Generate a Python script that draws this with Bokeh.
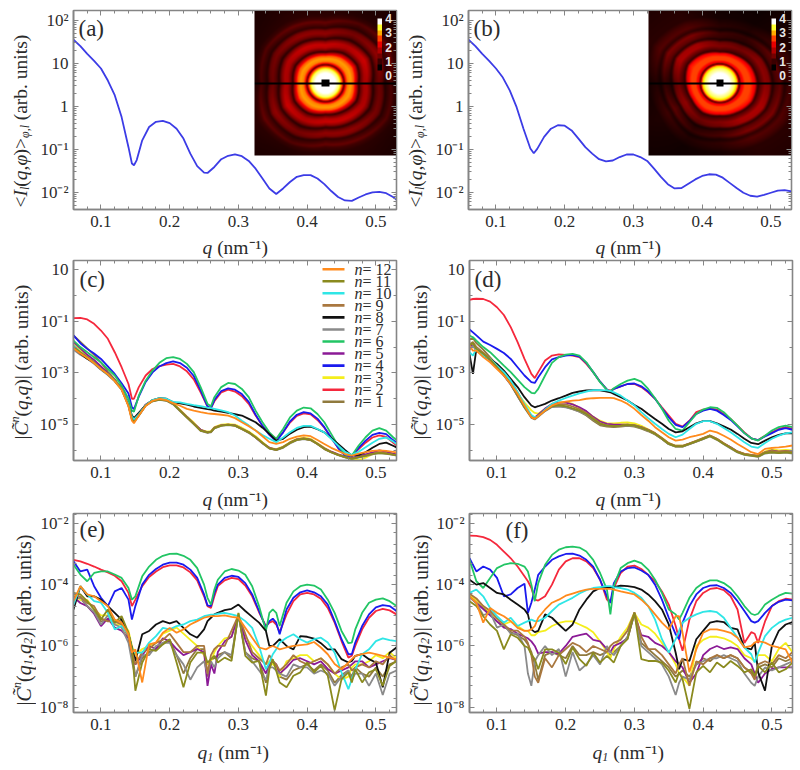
import numpy as np
from bokeh.embed import file_html
from bokeh.resources import INLINE
from bokeh.plotting import figure
from bokeh.layouts import column, row
from bokeh.models import (Range1d, LinearAxis, LogAxis, FixedTicker, Label, LinearColorMapper)

# ---------- values (log10 of the ordinate) ----------
qa = [.06,.07,.08,.09,.10,.11,.12,.13,.14,.145,.148,.152,.16,.17,.18,.19,.2,.21,.22,.23,.24,.25,.255,.265,.275,.285,.295,.305,.315,.325,.335,.345,.355,.365,.375,.385,.395,.405,.415,.425,.435,.445,.455,.465,.475,.485,.495,.505,.515,.525,.53]
Ia = [1.55,1.40,1.22,1.06,.88,.60,.26,-.25,-.95,-1.33,-1.37,-1.25,-.79,-.48,-.36,-.34,-.39,-.52,-.75,-1.10,-1.39,-1.54,-1.55,-1.41,-1.23,-1.15,-1.12,-1.16,-1.27,-1.45,-1.68,-1.91,-2.04,-1.91,-1.76,-1.64,-1.60,-1.60,-1.68,-1.81,-1.97,-2.11,-2.19,-2.20,-2.12,-2.05,-2.00,-1.99,-2.02,-2.11,-2.17]
qb = [.06,.07,.08,.09,.10,.11,.12,.13,.14,.15,.155,.16,.17,.18,.19,.2,.21,.22,.23,.24,.25,.26,.27,.28,.29,.3,.31,.32,.33,.34,.35,.36,.37,.38,.39,.40,.41,.42,.43,.44,.45,.46,.47,.48,.49,.50,.51,.52,.53]
Ib = [1.55,1.40,1.22,1.06,.88,.67,.37,-.02,-.52,-.98,-1.09,-.99,-.71,-.52,-.44,-.45,-.56,-.75,-.95,-1.10,-1.23,-1.28,-1.26,-1.18,-1.12,-1.12,-1.18,-1.27,-1.45,-1.64,-1.81,-1.91,-1.90,-1.80,-1.70,-1.62,-1.58,-1.59,-1.66,-1.78,-1.90,-2.01,-2.08,-2.10,-2.06,-2.01,-1.96,-1.95,-1.98]

qc = [.06,.07,.08,.09,.10,.11,.12,.13,.14,.145,.148,.155,.165,.175,.185,.195,.205,.215,.225,.235,.245,.255,.26,.265,.275,.285,.295,.305,.315,.325,.335,.345,.355,.365,.375,.385,.395,.405,.415,.425,.435,.445,.455,.465,.475,.485,.495,.505,.515,.525,.53]
c1 = [-1.55,-1.8,-2.05,-2.3,-2.6,-2.95,-3.25,-3.6,-4.2,-4.75,-4.87,-4.62,-4.25,-4.08,-4.0,-4.05,-4.2,-4.45,-4.7,-4.95,-5.2,-5.3,-5.27,-5.12,-5.02,-5.0,-5.03,-5.15,-5.3,-5.48,-5.7,-5.9,-5.97,-5.87,-5.7,-5.58,-5.55,-5.6,-5.74,-5.93,-6.06,-6.16,-6.25,-6.3,-6.25,-6.2,-6.12,-6.08,-6.1,-6.15,-6.17]
c2 = [-.88,-.87,-.93,-1.1,-1.36,-1.68,-2.2,-2.78,-3.43,-4.0,-4.0,-3.55,-3.1,-2.85,-2.74,-2.68,-2.65,-2.75,-2.94,-3.25,-3.75,-4.3,-4.36,-4.1,-3.75,-3.65,-3.72,-3.9,-4.2,-4.65,-5.05,-5.35,-5.55,-5.3,-4.92,-4.66,-4.57,-4.6,-4.82,-5.12,-5.52,-5.9,-6.15,-6.2,-5.95,-5.7,-5.5,-5.42,-5.48,-5.7,-5.8]
c3 = [-1.9,-2.1,-2.35,-2.55,-2.8,-3.05,-3.3,-3.65,-4.25,-4.75,-4.88,-4.6,-4.25,-4.05,-4.0,-4.03,-4.18,-4.42,-4.68,-4.92,-5.2,-5.27,-5.25,-5.1,-5.0,-4.98,-5.0,-5.12,-5.27,-5.45,-5.68,-5.9,-5.95,-5.85,-5.68,-5.55,-5.5,-5.55,-5.72,-5.9,-6.05,-6.15,-6.25,-6.35,-6.38,-6.28,-6.15,-6.05,-6.08,-6.14,-6.16]
c4 = [-1.55,-1.85,-2.07,-2.25,-2.46,-2.75,-3.04,-3.4,-3.8,-4.33,-4.4,-3.92,-3.35,-2.98,-2.75,-2.62,-2.55,-2.62,-2.8,-3.12,-3.68,-4.3,-4.36,-4.05,-3.7,-3.6,-3.65,-3.82,-4.12,-4.62,-5.05,-5.4,-5.65,-5.3,-4.88,-4.62,-4.52,-4.57,-4.77,-5.1,-5.5,-5.9,-6.2,-6.22,-5.9,-5.62,-5.4,-5.32,-5.37,-5.6,-5.7]
c5 = [-1.8,-2.05,-2.3,-2.5,-2.75,-3.02,-3.28,-3.6,-4.2,-4.72,-4.85,-4.6,-4.22,-4.07,-4.02,-4.05,-4.2,-4.45,-4.7,-4.95,-5.2,-5.3,-5.28,-5.12,-5.03,-5.0,-5.03,-5.16,-5.3,-5.5,-5.72,-5.9,-5.97,-5.87,-5.7,-5.57,-5.53,-5.58,-5.74,-5.92,-6.05,-6.15,-6.24,-6.3,-6.22,-6.15,-6.08,-6.0,-6.05,-6.12,-6.15]
c6 = [-1.75,-2.0,-2.2,-2.4,-2.59,-2.85,-3.1,-3.49,-4.0,-4.46,-4.5,-3.88,-3.3,-2.91,-2.61,-2.43,-2.39,-2.46,-2.65,-2.97,-3.55,-4.2,-4.29,-3.94,-3.55,-3.39,-3.43,-3.62,-3.94,-4.46,-4.91,-5.3,-5.55,-5.17,-4.72,-4.46,-4.34,-4.37,-4.59,-4.91,-5.36,-5.81,-6.16,-6.2,-5.81,-5.49,-5.23,-5.14,-5.23,-5.49,-5.6]
c7 = [-2.1,-2.3,-2.45,-2.65,-2.88,-3.08,-3.33,-3.65,-4.28,-4.8,-4.9,-4.66,-4.27,-4.1,-4.04,-4.08,-4.22,-4.48,-4.73,-4.98,-5.24,-5.32,-5.3,-5.15,-5.05,-5.02,-5.05,-5.18,-5.32,-5.5,-5.72,-5.93,-5.99,-5.9,-5.73,-5.6,-5.56,-5.6,-5.76,-5.95,-6.08,-6.18,-6.27,-6.33,-6.28,-6.22,-6.15,-6.1,-6.13,-6.17,-6.2]
c8 = [-2.0,-2.25,-2.45,-2.6,-2.85,-3.05,-3.3,-3.6,-4.2,-4.65,-4.75,-4.55,-4.25,-4.05,-3.98,-4.0,-4.14,-4.18,-4.23,-4.3,-4.35,-4.4,-4.42,-4.46,-4.5,-4.55,-4.6,-4.65,-4.78,-4.91,-5.12,-5.36,-5.62,-5.55,-5.35,-5.2,-5.1,-5.08,-5.18,-5.3,-5.52,-5.75,-5.98,-6.2,-6.17,-6.07,-5.9,-5.75,-5.7,-5.82,-5.88]
c9 = [-1.95,-2.2,-2.42,-2.62,-2.85,-3.06,-3.3,-3.62,-4.25,-4.77,-4.9,-4.65,-4.25,-4.08,-4.02,-4.06,-4.2,-4.46,-4.72,-4.97,-5.23,-5.3,-5.28,-5.13,-5.03,-5.0,-5.04,-5.17,-5.3,-5.49,-5.7,-5.92,-5.98,-5.88,-5.7,-5.58,-5.54,-5.59,-5.75,-5.94,-6.07,-6.17,-6.26,-6.32,-6.26,-6.2,-6.13,-6.08,-6.11,-6.16,-6.18]
c10 = [-1.95,-2.2,-2.4,-2.6,-2.85,-3.05,-3.3,-3.6,-4.2,-4.7,-4.8,-4.6,-4.25,-4.05,-3.98,-4.0,-4.12,-4.14,-4.2,-4.25,-4.29,-4.34,-4.36,-4.39,-4.45,-4.52,-4.65,-4.85,-5.03,-5.23,-5.4,-5.55,-5.68,-5.5,-5.3,-5.13,-5.05,-5.05,-5.17,-5.3,-5.55,-5.81,-6.05,-6.17,-6.05,-5.88,-5.7,-5.55,-5.5,-5.65,-5.75]
c11 = [-2.0,-2.2,-2.39,-2.6,-2.85,-3.05,-3.3,-3.62,-4.26,-4.78,-4.9,-4.65,-4.26,-4.1,-4.03,-4.07,-4.2,-4.46,-4.72,-4.97,-5.23,-5.3,-5.28,-5.14,-5.04,-5.01,-5.04,-5.17,-5.3,-5.49,-5.71,-5.92,-5.98,-5.88,-5.71,-5.59,-5.55,-5.59,-5.75,-5.94,-6.07,-6.17,-6.26,-6.33,-6.26,-6.2,-6.13,-6.1,-6.12,-6.16,-6.18]
c12 = [-2.05,-2.25,-2.42,-2.62,-2.85,-3.05,-3.32,-3.65,-4.3,-4.85,-4.95,-4.65,-4.28,-4.08,-4.0,-4.05,-4.17,-4.27,-4.39,-4.46,-4.52,-4.57,-4.58,-4.59,-4.62,-4.65,-4.75,-4.91,-5.06,-5.23,-5.45,-5.68,-5.75,-5.68,-5.55,-5.47,-5.42,-5.45,-5.6,-5.75,-5.9,-6.02,-6.14,-6.2,-6.12,-6.07,-6.02,-6.0,-6.02,-6.06,-6.08]

qd = [.06,.065,.07,.08,.09,.10,.11,.12,.13,.14,.15,.155,.16,.17,.18,.19,.20,.21,.22,.23,.24,.25,.26,.265,.27,.28,.29,.30,.31,.32,.33,.34,.35,.36,.37,.38,.39,.40,.41,.42,.43,.44,.45,.46,.47,.48,.49,.50,.51,.52,.53]
d1 = [-1.7,-1.65,-1.85,-2.1,-2.4,-2.7,-2.95,-3.3,-3.75,-4.25,-4.68,-4.75,-4.66,-4.45,-4.3,-4.28,-4.32,-4.4,-4.5,-4.65,-4.85,-5.03,-5.08,-5.09,-5.1,-5.08,-5.05,-5.08,-5.16,-5.26,-5.38,-5.56,-5.76,-5.85,-5.85,-5.76,-5.66,-5.55,-5.43,-5.56,-5.73,-5.9,-6.05,-6.14,-6.18,-6.22,-6.08,-6.05,-6.08,-6.05,-6.08]
d2 = [-.17,-.14,-.13,-.14,-.24,-.46,-.76,-1.23,-1.81,-2.46,-3.04,-3.2,-2.97,-2.52,-2.33,-2.28,-2.3,-2.33,-2.39,-2.65,-2.97,-3.34,-3.65,-3.68,-3.62,-3.52,-3.43,-3.43,-3.55,-3.75,-4.0,-4.33,-4.65,-4.97,-5.08,-4.85,-4.52,-4.42,-4.37,-4.42,-4.59,-4.78,-5.04,-5.3,-5.53,-5.6,-5.43,-5.3,-5.17,-5.1,-5.17]
d3 = [-2.0,-1.9,-2.15,-2.3,-2.5,-2.78,-3.08,-3.4,-3.8,-4.15,-4.45,-4.55,-4.58,-4.4,-4.2,-4.15,-4.12,-4.2,-4.35,-4.5,-4.7,-4.85,-4.95,-4.95,-4.95,-4.93,-4.92,-4.95,-5.05,-5.18,-5.33,-5.52,-5.72,-5.82,-5.82,-5.74,-5.63,-5.52,-5.42,-5.55,-5.72,-5.9,-6.05,-6.12,-6.17,-6.2,-6.05,-5.95,-6.0,-5.98,-6.0]
d4 = [-1.32,-1.43,-1.55,-1.79,-1.92,-2.07,-2.23,-2.46,-2.78,-3.1,-3.36,-3.39,-3.17,-2.78,-2.48,-2.39,-2.33,-2.3,-2.37,-2.61,-2.97,-3.34,-3.65,-3.72,-3.62,-3.52,-3.43,-3.41,-3.52,-3.72,-4.0,-4.37,-4.72,-5.01,-5.1,-4.87,-4.59,-4.46,-4.39,-4.46,-4.63,-4.82,-5.07,-5.33,-5.53,-5.6,-5.46,-5.33,-5.2,-5.14,-5.2]
d5 = [-1.95,-1.95,-2.1,-2.28,-2.5,-2.8,-3.1,-3.45,-3.9,-4.33,-4.68,-4.72,-4.62,-4.38,-4.2,-4.15,-4.15,-4.22,-4.33,-4.48,-4.7,-4.88,-4.97,-4.98,-5.0,-5.0,-5.0,-5.03,-5.1,-5.2,-5.34,-5.54,-5.74,-5.83,-5.83,-5.74,-5.64,-5.53,-5.43,-5.56,-5.73,-5.88,-6.05,-6.14,-6.18,-6.22,-6.08,-6.0,-6.05,-6.03,-6.05]
d6 = [-1.55,-1.62,-1.75,-2.0,-2.2,-2.46,-2.72,-2.97,-3.26,-3.55,-3.77,-3.79,-3.62,-3.1,-2.61,-2.39,-2.29,-2.26,-2.33,-2.59,-2.97,-3.36,-3.66,-3.72,-3.59,-3.43,-3.3,-3.23,-3.34,-3.62,-3.98,-4.39,-4.85,-5.17,-5.23,-4.91,-4.59,-4.42,-4.33,-4.35,-4.52,-4.78,-5.04,-5.33,-5.53,-5.62,-5.43,-5.23,-5.1,-5.04,-5.1]
d7 = [-2.1,-1.95,-2.15,-2.3,-2.5,-2.8,-3.1,-3.45,-3.9,-4.35,-4.74,-4.8,-4.7,-4.48,-4.32,-4.3,-4.33,-4.4,-4.5,-4.62,-4.8,-4.98,-5.05,-5.06,-5.07,-5.05,-5.03,-5.06,-5.14,-5.24,-5.37,-5.56,-5.76,-5.85,-5.85,-5.76,-5.66,-5.56,-5.46,-5.59,-5.76,-5.92,-6.08,-6.17,-6.21,-6.25,-6.12,-6.08,-6.1,-6.08,-6.12]
d8 = [-2.26,-3.04,-2.07,-2.33,-2.46,-2.65,-2.91,-3.23,-3.55,-3.94,-4.26,-4.33,-4.29,-4.2,-4.07,-3.98,-3.88,-3.77,-3.72,-3.68,-3.67,-3.68,-3.72,-3.75,-3.81,-3.94,-4.07,-4.24,-4.39,-4.59,-4.78,-4.97,-5.17,-5.3,-5.26,-5.1,-4.95,-4.87,-4.87,-4.95,-5.07,-5.19,-5.36,-5.55,-5.71,-5.76,-5.62,-5.49,-5.4,-5.34,-5.34]
d9 = [-1.9,-1.8,-2.0,-2.22,-2.45,-2.75,-3.05,-3.4,-3.85,-4.3,-4.7,-4.76,-4.66,-4.44,-4.27,-4.22,-4.22,-4.3,-4.4,-4.55,-4.74,-4.94,-5.03,-5.04,-5.05,-5.04,-5.0,-5.02,-5.1,-5.2,-5.33,-5.52,-5.72,-5.82,-5.82,-5.73,-5.63,-5.52,-5.42,-5.55,-5.72,-5.88,-6.04,-6.13,-6.17,-6.2,-6.06,-6.02,-6.05,-6.03,-6.05]
d10 = [-2.2,-2.33,-2.07,-2.33,-2.46,-2.72,-2.97,-3.3,-3.75,-4.2,-4.63,-4.72,-4.68,-4.42,-4.2,-4.07,-3.97,-3.88,-3.79,-3.72,-3.67,-3.67,-3.68,-3.7,-3.75,-3.88,-4.07,-4.26,-4.52,-4.75,-4.97,-5.17,-5.36,-5.49,-5.39,-5.17,-4.97,-4.87,-4.87,-4.97,-5.13,-5.3,-5.49,-5.68,-5.85,-5.9,-5.71,-5.55,-5.43,-5.34,-5.3]
d11 = [-1.94,-1.84,-2.07,-2.26,-2.48,-2.78,-3.08,-3.43,-3.88,-4.33,-4.72,-4.78,-4.68,-4.46,-4.29,-4.26,-4.29,-4.37,-4.46,-4.59,-4.78,-4.97,-5.04,-5.05,-5.06,-5.04,-5.01,-5.04,-5.13,-5.23,-5.36,-5.55,-5.75,-5.84,-5.84,-5.75,-5.65,-5.55,-5.45,-5.58,-5.75,-5.91,-6.07,-6.16,-6.2,-6.24,-6.1,-6.07,-6.1,-6.07,-6.1]
d12 = [-1.94,-2.14,-2.14,-2.39,-2.59,-2.85,-3.1,-3.43,-3.81,-4.26,-4.72,-4.78,-4.68,-4.46,-4.26,-4.16,-4.11,-4.07,-4.05,-4.0,-3.98,-3.97,-3.97,-3.97,-3.98,-4.07,-4.2,-4.39,-4.63,-4.85,-5.1,-5.3,-5.49,-5.62,-5.58,-5.49,-5.43,-5.36,-5.23,-5.3,-5.43,-5.58,-5.75,-5.91,-6.07,-6.14,-5.94,-5.9,-5.88,-5.85,-5.81]

qe = [.06,.07,.08,.09,.10,.11,.12,.13,.14,.145,.15,.16,.17,.18,.19,.20,.21,.22,.23,.24,.25,.255,.26,.265,.27,.28,.29,.30,.31,.32,.33,.34,.345,.35,.355,.36,.37,.38,.39,.40,.41,.42,.43,.44,.45,.46,.465,.47,.48,.49,.50,.51,.52,.53]
e1 = [-4.35,-4.45,-4.7,-4.9,-5.2,-5.15,-5.25,-5.15,-5.6,-6.2,-7.0,-6.4,-6.2,-6.1,-5.9,-5.8,-6.3,-6.9,-6.4,-6.1,-6.1,-7.0,-6.45,-6.4,-6.3,-6.2,-6.4,-4.95,-6.2,-6.4,-6.5,-7.2,-6.7,-6.5,-6.7,-7.0,-7.1,-6.8,-6.7,-6.6,-6.8,-6.6,-6.8,-7.2,-6.95,-6.8,-7.0,-6.7,-6.9,-7.0,-6.7,-7.0,-6.6,-6.5]
e2 = [-3.19,-3.24,-3.32,-3.41,-3.51,-3.6,-3.71,-3.89,-4.27,-4.7,-4.49,-4.05,-3.75,-3.57,-3.43,-3.37,-3.37,-3.44,-3.6,-3.86,-4.38,-4.7,-4.76,-4.38,-4.05,-3.86,-3.78,-3.82,-4.03,-4.38,-4.9,-5.35,-5.24,-5.19,-5.3,-5.55,-4.97,-4.54,-4.32,-4.27,-4.32,-4.46,-4.76,-5.24,-5.84,-6.38,-6.32,-6.0,-5.46,-5.08,-4.86,-4.79,-4.84,-4.97]
e3 = [-4.3,-4.5,-4.5,-4.8,-5.0,-5.0,-5.3,-5.3,-5.5,-6.0,-6.3,-6.1,-6.0,-5.9,-5.6,-5.5,-5.4,-5.6,-5.8,-6.0,-6.3,-6.6,-6.5,-6.2,-6.0,-5.75,-5.7,-4.95,-5.7,-6.0,-6.3,-6.6,-6.5,-6.6,-6.7,-7.0,-6.5,-6.4,-6.3,-6.3,-6.5,-6.4,-6.6,-6.9,-7.1,-7.0,-6.7,-6.6,-6.6,-6.5,-6.3,-6.4,-6.2,-6.4]
e4 = [-3.24,-3.57,-3.51,-4.05,-4.43,-4.7,-4.22,-4.11,-4.49,-5.14,-4.7,-4.0,-3.68,-3.49,-3.35,-3.28,-3.28,-3.35,-3.51,-3.78,-4.32,-4.68,-4.7,-4.27,-4.0,-3.78,-3.71,-3.75,-3.95,-4.32,-4.86,-5.4,-5.19,-5.11,-5.24,-5.62,-4.81,-4.43,-4.25,-4.19,-4.25,-4.38,-4.65,-5.19,-5.78,-6.27,-6.27,-5.89,-5.35,-4.97,-4.74,-4.67,-4.7,-4.86]
e5 = [-4.4,-4.6,-4.7,-4.95,-5.35,-5.1,-5.4,-5.5,-5.75,-6.3,-6.6,-6.3,-6.0,-6.1,-5.75,-5.85,-6.1,-6.3,-6.2,-6.1,-6.2,-7.3,-6.6,-6.9,-6.2,-5.85,-5.7,-5.0,-5.8,-6.3,-6.5,-6.9,-6.6,-6.5,-6.6,-6.9,-6.7,-6.45,-6.4,-6.5,-6.6,-6.5,-6.75,-6.9,-6.8,-6.7,-6.6,-6.5,-6.5,-6.7,-6.6,-6.5,-6.4,-6.45]
e6 = [-3.35,-3.67,-3.89,-3.62,-3.57,-3.57,-3.67,-3.78,-4.11,-4.49,-4.38,-3.73,-3.41,-3.19,-3.06,-3.0,-2.99,-3.06,-3.19,-3.46,-4.0,-4.43,-4.65,-4.16,-3.84,-3.57,-3.49,-3.54,-3.68,-4.05,-4.7,-5.51,-4.92,-4.81,-4.92,-5.35,-4.59,-4.22,-4.05,-4.0,-4.03,-4.16,-4.49,-4.92,-5.51,-5.91,-5.89,-5.46,-4.92,-4.59,-4.49,-4.45,-4.54,-4.7]
e7 = [-4.5,-4.4,-4.7,-4.9,-5.3,-5.0,-5.3,-5.4,-5.9,-6.5,-7.0,-6.3,-6.3,-6.0,-5.9,-5.9,-6.3,-6.6,-7.1,-6.7,-6.5,-6.9,-6.5,-6.7,-6.4,-6.2,-6.3,-5.0,-6.2,-6.5,-6.8,-7.1,-6.7,-6.7,-6.8,-6.9,-7.0,-6.6,-6.7,-6.7,-6.9,-6.8,-6.9,-7.3,-7.0,-6.8,-7.1,-6.9,-6.9,-7.3,-6.9,-7.6,-6.9,-6.8]
e8 = [-4.81,-4.05,-4.38,-4.38,-4.49,-4.7,-4.92,-5.14,-5.62,-6.05,-6.49,-5.62,-5.51,-5.3,-5.19,-5.26,-5.19,-5.41,-5.62,-5.73,-5.46,-5.19,-5.08,-4.97,-4.92,-4.83,-4.79,-4.65,-4.86,-5.05,-5.24,-5.51,-6.0,-6.0,-5.89,-5.78,-6.0,-6.11,-5.68,-5.7,-5.76,-5.91,-6.11,-6.11,-6.43,-6.54,-6.49,-6.32,-6.27,-6.43,-6.54,-7.35,-6.22,-6.05]
e9 = [-4.3,-4.4,-4.6,-4.7,-5.1,-5.2,-5.2,-5.3,-5.7,-6.2,-6.6,-6.2,-6.1,-5.9,-5.8,-5.6,-5.9,-6.2,-6.2,-6.0,-6.0,-6.9,-6.3,-6.1,-6.0,-6.0,-5.5,-5.0,-5.6,-6.2,-6.4,-6.6,-6.3,-6.5,-6.6,-6.8,-6.6,-6.3,-6.5,-6.6,-6.5,-6.4,-6.6,-6.9,-6.7,-6.6,-6.8,-6.7,-6.6,-6.7,-6.5,-6.6,-6.3,-6.5]
e10 = [-4.65,-4.05,-4.32,-4.54,-4.59,-4.92,-5.46,-5.35,-5.62,-6.11,-6.22,-6.22,-5.89,-5.68,-5.41,-5.46,-5.35,-5.3,-5.19,-5.14,-5.03,-5.0,-4.98,-4.97,-4.95,-4.92,-4.97,-5.03,-5.19,-5.41,-6.0,-6.76,-6.54,-6.27,-6.11,-5.89,-5.73,-5.62,-5.78,-5.89,-5.78,-5.73,-5.89,-6.22,-6.86,-7.41,-7.08,-6.76,-6.27,-6.11,-5.84,-5.75,-5.81,-5.84]
e11 = [-4.27,-4.32,-4.54,-4.81,-5.14,-4.81,-5.24,-5.03,-5.57,-6.11,-7.46,-6.54,-6.11,-6.16,-5.95,-5.78,-6.54,-7.35,-6.54,-6.22,-6.22,-6.54,-6.43,-6.32,-6.54,-6.38,-6.49,-4.92,-6.32,-6.54,-6.49,-7.62,-6.76,-6.43,-6.81,-7.19,-7.35,-6.97,-6.86,-6.54,-6.86,-6.65,-6.97,-8.1,-7.08,-6.86,-7.19,-6.76,-7.19,-6.86,-6.76,-7.3,-6.65,-6.49]
e12 = [-4.54,-4.05,-4.32,-4.38,-4.54,-4.7,-5.14,-5.24,-5.62,-6.22,-6.11,-7.19,-5.95,-5.89,-5.57,-5.41,-5.57,-5.46,-5.3,-5.19,-5.08,-5.05,-5.03,-5.03,-5.03,-5.0,-5.05,-5.08,-5.41,-5.73,-6.05,-6.11,-6.05,-6.0,-6.05,-6.11,-6.05,-6.0,-5.97,-5.95,-5.87,-6.05,-6.27,-6.59,-6.76,-6.54,-6.43,-6.32,-6.27,-6.22,-6.27,-6.32,-6.38,-6.43]

qf = [.06,.07,.08,.09,.10,.11,.12,.13,.14,.145,.15,.155,.16,.17,.18,.19,.20,.21,.22,.23,.24,.25,.26,.265,.27,.28,.29,.30,.31,.32,.33,.34,.35,.36,.365,.37,.38,.39,.40,.41,.42,.43,.44,.45,.46,.47,.475,.48,.49,.50,.51,.52,.53]
f1 = [-4.35,-4.5,-4.75,-4.95,-5.2,-5.35,-5.55,-5.65,-5.8,-5.95,-6.2,-6.6,-7.1,-6.3,-6.2,-6.3,-6.4,-6.0,-6.3,-6.3,-6.2,-6.3,-6.2,-6.3,-6.2,-6.0,-5.7,-4.92,-5.9,-6.1,-6.3,-6.5,-6.7,-7.0,-6.9,-6.8,-7.0,-6.6,-6.4,-6.5,-6.3,-6.4,-6.3,-6.4,-6.7,-6.85,-7.0,-6.7,-6.6,-6.7,-6.4,-6.5,-6.4]
f2 = [-2.4,-2.41,-2.45,-2.54,-2.7,-2.92,-3.14,-3.41,-3.73,-3.89,-4.11,-4.49,-4.52,-4.38,-4.0,-3.51,-3.24,-3.14,-3.14,-3.24,-3.46,-3.84,-4.49,-4.59,-4.11,-3.62,-3.41,-3.38,-3.49,-3.68,-3.89,-4.22,-4.65,-5.35,-5.78,-6.16,-5.14,-4.54,-4.27,-4.14,-4.11,-4.18,-4.38,-4.81,-5.9,-5.55,-5.6,-5.9,-5.2,-4.7,-4.54,-4.46,-4.49]
f3 = [-4.35,-4.5,-4.7,-4.9,-5.1,-5.3,-5.2,-5.35,-5.5,-5.5,-5.65,-5.65,-5.55,-5.5,-5.35,-5.25,-5.2,-5.2,-5.3,-5.4,-5.55,-5.85,-6.2,-6.4,-6.1,-5.7,-5.4,-4.92,-5.3,-5.4,-5.6,-5.9,-6.2,-6.6,-6.9,-7.0,-7.3,-6.0,-5.8,-5.7,-5.7,-5.75,-5.85,-6.0,-6.3,-6.4,-6.5,-6.3,-6.3,-6.5,-6.1,-5.9,-6.2]
f4 = [-3.14,-3.57,-3.41,-3.51,-3.78,-4.38,-4.32,-4.11,-3.97,-4.92,-4.59,-4.16,-3.68,-3.41,-3.19,-3.08,-3.0,-2.99,-3.05,-3.19,-3.41,-3.84,-4.38,-4.59,-3.95,-3.57,-3.46,-3.44,-3.54,-3.68,-4.0,-4.49,-5.08,-5.62,-5.78,-5.24,-4.7,-4.32,-4.11,-4.03,-4.02,-4.11,-4.27,-4.54,-4.86,-5.19,-5.24,-5.19,-4.92,-4.7,-4.56,-4.49,-4.51]
f5 = [-4.4,-4.6,-4.8,-5.0,-5.2,-5.4,-5.45,-5.6,-5.7,-5.75,-5.85,-6.0,-6.25,-6.2,-6.2,-6.25,-6.0,-5.7,-5.65,-5.6,-5.8,-5.85,-6.1,-6.2,-6.0,-5.9,-5.75,-4.95,-5.65,-5.7,-5.9,-6.0,-6.2,-6.5,-6.6,-6.7,-7.2,-6.9,-6.3,-6.1,-6.0,-6.1,-6.05,-6.1,-6.4,-6.6,-6.9,-7.2,-6.9,-6.75,-6.7,-6.7,-6.7]
f6 = [-3.19,-3.89,-4.11,-3.78,-3.46,-3.35,-3.3,-3.32,-3.41,-3.57,-4.0,-4.54,-3.95,-3.35,-3.03,-2.86,-2.78,-2.76,-2.79,-2.92,-3.19,-3.62,-4.16,-4.97,-4.05,-3.46,-3.3,-3.22,-3.3,-3.51,-3.84,-4.27,-4.81,-4.97,-5.14,-4.92,-4.43,-4.11,-3.95,-3.86,-3.86,-3.95,-4.11,-4.38,-4.7,-4.95,-4.99,-4.95,-4.65,-4.49,-4.36,-4.27,-4.29]
f7 = [-4.4,-4.6,-5.0,-4.9,-5.4,-5.3,-5.6,-5.6,-6.0,-6.9,-7.3,-6.5,-6.3,-6.0,-6.3,-6.1,-7.0,-6.2,-6.8,-6.6,-6.3,-6.6,-6.0,-6.2,-6.3,-6.0,-5.7,-4.95,-6.0,-6.2,-6.4,-6.6,-7.0,-7.6,-7.2,-7.0,-7.1,-6.6,-6.5,-6.4,-6.4,-6.3,-6.4,-6.5,-6.9,-7.2,-7.3,-7.0,-6.7,-6.8,-6.7,-6.6,-6.5]
f8 = [-3.84,-4.0,-3.95,-4.11,-4.27,-4.32,-4.49,-4.65,-4.81,-4.97,-5.46,-5.55,-5.51,-4.97,-5.08,-5.3,-5.51,-5.3,-4.81,-4.49,-4.22,-4.11,-4.09,-4.09,-4.08,-4.03,-4.05,-4.08,-4.16,-4.32,-4.54,-4.81,-5.3,-6.22,-6.76,-6.43,-6.49,-5.78,-5.51,-5.24,-5.19,-5.22,-5.41,-5.46,-6.05,-6.11,-5.89,-6.86,-7.46,-6.0,-5.51,-5.3,-5.22]
f9 = [-4.3,-4.45,-4.7,-4.85,-5.1,-5.3,-5.5,-5.5,-5.7,-5.9,-6.3,-7.0,-7.2,-6.4,-6.7,-6.3,-6.1,-5.9,-6.0,-6.2,-6.0,-6.1,-6.2,-6.0,-5.9,-5.8,-5.5,-4.9,-5.7,-6.1,-6.1,-6.3,-6.6,-6.9,-6.6,-6.4,-7.3,-6.5,-6.6,-6.4,-6.3,-6.4,-6.3,-6.4,-6.7,-6.9,-7.1,-6.6,-6.5,-6.6,-6.3,-6.4,-6.2]
f10 = [-4.27,-4.16,-4.38,-4.76,-5.03,-5.24,-5.08,-5.35,-5.24,-5.19,-5.14,-5.19,-5.19,-5.08,-4.86,-4.65,-4.54,-4.43,-4.29,-4.18,-4.11,-4.08,-4.05,-4.05,-4.08,-4.11,-4.16,-4.27,-4.43,-4.7,-5.14,-5.78,-6.22,-5.78,-5.51,-5.24,-5.08,-4.97,-4.89,-4.86,-4.9,-5.08,-5.41,-5.73,-6.05,-6.27,-6.54,-6.22,-5.68,-5.41,-5.24,-5.14,-5.08]
f11 = [-4.54,-4.7,-5.03,-5.3,-5.51,-6.11,-5.62,-5.73,-6.0,-6.05,-6.27,-6.43,-6.76,-6.11,-6.11,-6.22,-6.59,-6.05,-6.43,-6.65,-6.22,-6.54,-6.32,-6.43,-6.54,-6.0,-5.78,-4.92,-6.43,-6.49,-6.49,-6.54,-6.81,-7.19,-6.86,-7.08,-8.05,-6.86,-6.65,-6.86,-6.54,-6.7,-6.49,-6.65,-6.86,-6.76,-6.97,-6.65,-6.86,-6.54,-6.86,-6.76,-6.54]
f12 = [-4.38,-4.59,-5.24,-4.76,-4.92,-5.03,-5.19,-5.41,-5.51,-5.51,-5.46,-5.35,-5.08,-4.81,-4.59,-4.49,-4.36,-4.29,-4.22,-4.16,-4.14,-4.14,-4.14,-4.14,-4.16,-4.22,-4.27,-4.32,-4.49,-4.7,-4.97,-5.24,-5.46,-5.03,-5.03,-5.57,-6.86,-6.11,-5.57,-5.46,-5.46,-5.51,-5.57,-5.73,-6.05,-6.0,-5.89,-5.84,-5.89,-6.0,-6.05,-6.11,-6.54]

C_SER = {"c": [c1,c2,c3,c4,c5,c6,c7,c8,c9,c10,c11,c12], "d": [d1,d2,d3,d4,d5,d6,d7,d8,d9,d10,d11,d12],
         "e": [e1,e2,e3,e4,e5,e6,e7,e8,e9,e10,e11,e12], "f": [f1,f2,f3,f4,f5,f6,f7,f8,f9,f10,f11,f12]}
C_Q = {"c": qc, "d": qd, "e": qe, "f": qf}

n_labels = [1,2,3,4,5,6,7,8,9,10,11,12]
n_colors = ["#907a3e","#f5283c","#f4ee1c","#1a1aee","#8b1a96","#22c564","#8a8a8a","#111111","#a9773f","#2fe6e6","#8a8a1e","#ff8a1c"]
x_ticks = [.1,.2,.3,.4,.5]
x_minor = [.06,.08,.12,.14,.16,.18,.22,.24,.26,.28,.32,.34,.36,.38,.42,.44,.46,.48,.52]

# inset pattern: radial intensity profile and 30-degree angular tables
rad_a = [0,10,14,17,18.5,20,22,25,28,31,33,35,38,41,44,47,50,53,56,59,62,65,68,72,80,110]
val_a = [4.2,4.0,3.6,2.4,0.7,2.2,2.8,2.95,2.6,1.5,0.45,1.0,1.55,1.65,1.2,0.4,0.9,1.15,1.0,0.4,0.6,0.8,0.5,0.35,0.3,0.2]
rad_b = [0,10,15,17.5,19.5,21,24,28,32,34.5,37,41,45,48,51,55,59,63,67,72,110]
val_b = [4.2,4.0,3.6,3.0,0.6,2.0,2.5,2.5,2.1,0.45,0.8,1.3,1.2,0.35,0.7,0.9,0.35,0.6,0.5,0.3,0.2]
ang_deg = [0,30,60,90,120,150,180,210,240,270,300,330,360]
shape_a = [1.0,1.1,1.05,.93,1.0,1.05,.98,1.08,1.05,.94,1.0,1.08,1.0]
gain_a = [.8,1.1,.9,1.1,1.1,.9,.8,1.1,.9,1.1,1.1,.9,.8]
shape_b = [1.1,1.05,.95,.9,1.0,1.08,1.0,.95,1.0,.95,1.0,1.1,1.1]
gain_b = [.9,.9,.5,.6,1.2,1.2,.5,.9,.5,.7,1.2,1.2,.9]
cbar_vals = [0,.5,1,1.5,2,2.5,3,3.5,4]

# ---------- page geometry ----------
SERIF = "Liberation Serif"
GREY = "#858585"
TXT = "#2b2b2b"
hot = []
for i in range(256):
    t = i / 255
    hot.append("#%02x%02x%02x" % (int(255*min(1, t/.55)), int(255*np.clip((t-.55)/.3, 0, 1)), int(255*np.clip((t-.85)/.15, 0, 1))))
mapper = LinearColorMapper(palette=hot, low=0, high=4)


def panel(col, rw, yr, major, labels, minor):
    fx = [73, 467][col]
    bl = [37, 35][col]
    br = [4, 10][col]
    top, h, bt, bb = [(10, 199, 10, 28), (260, 200, 2, 28), (513, 199, 3, 28)][rw]
    p = figure(frame_width=323, frame_height=h, min_border_left=bl, min_border_right=br, min_border_top=bt,
               min_border_bottom=bb, x_range=Range1d(.06, .53), y_range=Range1d(10**yr[0], 10**yr[1]),
               y_axis_type="log", output_backend="svg", toolbar_location=None, background_fill_color="white",
               border_fill_color="white", outline_line_color=GREY, outline_line_width=1.6)
    p.grid.visible = False
    xt = FixedTicker(ticks=x_ticks, minor_ticks=x_minor)
    yt = FixedTicker(ticks=[10.0**m for m in major], minor_ticks=[10.0**m for m in minor])
    ax = p.xaxis[0]
    ax.ticker = xt
    ay = p.yaxis[0]
    ay.ticker = yt
    ay.major_label_overrides = {10.0**m: l for m, l in zip(major, labels)}
    for a in (ax, ay):
        a.axis_line_color = GREY
        a.axis_line_width = 1.6
        a.major_tick_line_color = GREY
        a.minor_tick_line_color = GREY
        a.major_tick_in = 5
        a.major_tick_out = 0
        a.minor_tick_in = 3
        a.minor_tick_out = 0
        a.major_label_text_font = SERIF
        a.major_label_text_font_size = "17px"
        a.major_label_text_color = TXT
    ax.major_label_standoff = 6
    ay.major_label_standoff = 5
    top_ax = LinearAxis(ticker=xt, major_tick_in=5, major_tick_out=0, minor_tick_in=3, minor_tick_out=0,
                        major_tick_line_color=GREY, minor_tick_line_color=GREY, axis_line_color=GREY,
                        major_label_text_font_size="0px", major_label_text_color=None, major_label_standoff=0)
    right_ax = LogAxis(ticker=yt, major_tick_in=5, major_tick_out=0, minor_tick_in=3, minor_tick_out=0,
                       major_tick_line_color=GREY, minor_tick_line_color=GREY, axis_line_color=GREY,
                       major_label_text_font_size="0px", major_label_text_color=None, major_label_standoff=0)
    p.add_layout(top_ax, "above")
    p.add_layout(right_ax, "right")

    def to_x(px):
        return .06 + (px - fx) / 323 * .47

    def to_y(py):
        return 10 ** (yr[1] - (py - top) / h * (yr[1] - yr[0]))
    return p, to_x, to_y


def strip(x0, x1, y0, y1):
    """Bare figure whose data coordinates are page pixels; it holds axis titles."""
    s = figure(frame_width=x1 - x0, frame_height=y1 - y0, x_range=Range1d(x0, x1), y_range=Range1d(y1, y0),
               x_axis_location=None, y_axis_location=None, min_border=0, min_border_left=0, min_border_right=0,
               min_border_top=0, min_border_bottom=0, output_backend="svg",
               toolbar_location=None, outline_line_color=None, background_fill_color="white",
               border_fill_color="white")
    s.grid.visible = False
    return s


def tag(p, txt, x, y):
    p.add_layout(Label(x=x, y=y, text=txt, text_font=SERIF, text_font_size="23px", text_color=TXT,
                       text_baseline="middle", text_align="left"))


def rich(p, pieces, xs, ys, size, vertical):
    """Axis title in pieces (text, style, scale, baseline shift, advance in em)."""
    x, y = xs, ys
    for text, style, scale, shift, adv in pieces:
        step = adv * size * scale
        if text.strip():
            px, py = (x + shift, y) if vertical else (x, y + shift)
            p.add_layout(Label(x=px, y=py, text=text, angle=90 if vertical else 0, angle_units="deg",
                               text_font=SERIF, text_font_style=style, text_font_size="%.1fpx" % (size * scale),
                               text_color=TXT, text_baseline="alphabetic", text_align="left"))
        if vertical:
            y -= step
        else:
            x += step


def pattern(rad, val, shape, gain, nx, ny, cx, cy):
    yy, xx = np.mgrid[0:ny, 0:nx]
    dx = xx + .5 - cx
    dy = yy + .5 - cy
    r = np.hypot(dx, dy)
    th = np.degrees(np.arctan2(dy, dx)) % 360
    m = np.interp(th, ang_deg, shape)
    g = np.interp(th, ang_deg, gain)
    rr = r / (1 + (m - 1) * np.clip((r - 18) / 15, 0, 1))
    img = np.interp(rr, rad, val) * (1 + (g - 1) * np.clip((r - 30) / 20, 0, 1))
    img[np.abs(dy) <= 1.0] = 0
    img[(np.abs(dx) <= 3.5) & (np.abs(dy) <= 3.5)] = 0
    return img


def inset(p, to_x, to_y, rad, val, shape, gain, x0, x1, y0, y1, cx, cy, bx, lx):
    nx, ny = int(round(x1 - x0)), int(round(y1 - y0))
    img = pattern(rad, val, shape, gain, nx, ny, cx - x0, y1 - cy)
    p.image(image=[img], x=to_x(x0), y=to_y(y1), dw=to_x(x1) - to_x(x0), dh=to_y(y0) - to_y(y1), color_mapper=mapper)
    bar = np.array(cbar_vals, dtype=float).reshape(-1, 1)
    p.image(image=[bar], x=to_x(bx), y=to_y(70), dw=to_x(bx + 4.5) - to_x(bx), dh=to_y(18) - to_y(70), color_mapper=mapper)
    for t, py in zip(["4", "3", "2", "1", "0"], [18, 32, 47, 61, 75]):
        p.add_layout(Label(x=to_x(lx), y=to_y(py), text=t, text_font="Liberation Sans", text_font_size="12px",
                           text_font_style="bold", text_color="#e8e8e8", text_baseline="middle", text_align="center"))


N, I = "normal", "italic"
ARB = ("(arb. units)", N, 1, 0, 4.388)
GAP = (" ", N, 1, 0, .25)
YT_I = [("<", N, 1, 0, .564), ("I", I, 1, 0, .333), ("l", I, .62, 4, .278), ("(", N, 1, 0, .333), ("q", I, 1, 0, .5),
        (",", N, 1, 0, .25), ("\u03C6", I, 1, 0, .52), (")>", N, 1, 0, .897), ("\u03C6,l", I, .62, 4, 1.048), GAP, ARB]
YT_C = [("|", N, 1, 0, .2), ("C\u0303", I, 1, 0, .667), ("n", I, .62, -7, .5), ("(", N, 1, 0, .333), ("q", I, 1, 0, .5),
        (",", N, 1, 0, .25), ("q", I, 1, 0, .5), (")|", N, 1, 0, .533), GAP, ARB]
YT_E = [("|", N, 1, 0, .2), ("C\u0303", I, 1, 0, .667), ("n", I, .62, -7, .5), ("(", N, 1, 0, .333), ("q", I, 1, 0, .5),
        ("1", I, .62, 4, .5), (",", N, 1, 0, .25), ("q", I, 1, 0, .5), ("2", I, .62, 4, .5), (")|", N, 1, 0, .533), GAP, ARB]
NM = ("(nm\u207B\u00B9)", N, 1, 0, 2.6)
XT_Q = [("q", I, 1, 0, .5), GAP, NM]
XT_Q1 = [("q", I, 1, 0, .5), ("1", I, .62, 4, .5), GAP, NM]

maj_a = [-2, -1, 0, 1, 2]
lab_a = ["10\u207B\u00B2", "10\u207B\u00B9", "1", "10", "10\u00B2"]
min_a = [e + np.log10(f) for e in range(-3, 3) for f in (2, 3, 4, 5, 6, 7, 8, 9)]
maj_c = [-5, -3, -1, 1]
lab_c = ["10\u207B\u2075", "10\u207B\u00B3", "10\u207B\u00B9", "10"]
min_c = [-6, -4, -2, 0]
maj_e = [-8, -6, -4, -2]
lab_e = ["10\u207B\u2078", "10\u207B\u2076", "10\u207B\u2074", "10\u207B\u00B2"]
min_e = [e + np.log10(f) for e in range(-9, -1) for f in (2, 5)] + [-7, -5, -3]

# (a), (b)
pa, xa, ya = panel(0, 0, (-2.40, 2.23), maj_a, lab_a, min_a)
inset(pa, xa, ya, rad_a, val_a, shape_a, gain_a, 254, 396, 10, 155, 325, 82.7, 377, 388)
pa.line(qa, [10.0**v for v in Ia], line_color="#3c3ce6", line_width=1.8)
tag(pa, "(a)", xa(78), ya(28))

pb, xb, yb = panel(1, 0, (-2.40, 2.23), maj_a, lab_a, min_a)
inset(pb, xb, yb, rad_b, val_b, shape_b, gain_b, 647, 790, 10, 155, 718.3, 82.7, 770, 781)
pb.line(qb, [10.0**v for v in Ib], line_color="#3c3ce6", line_width=1.8)
tag(pb, "(b)", xb(472), yb(28))

# (c)-(f)
pc, xc, yc = panel(0, 1, (-6.39, 1.35), maj_c, lab_c, min_c)
pd, xd, yd = panel(1, 1, (-6.39, 1.35), maj_c, lab_c, min_c)
pe, xe, ye = panel(0, 2, (-8.17, -1.68), maj_e, lab_e, min_e)
pf, xf, yf = panel(1, 2, (-8.17, -1.68), maj_e, lab_e, min_e)
figs = {"c": pc, "d": pd, "e": pe, "f": pf}
for k, fig in figs.items():
    for s, col in zip(C_SER[k], n_colors):
        fig.line(C_Q[k], [10.0**v for v in s], line_color=col, line_width=1.8)
tag(pc, "(c)", xc(79), yc(279))
tag(pd, "(d)", xd(472), yd(279))
tag(pe, "(e)", xe(79), ye(529))
tag(pf, "(f)", xf(503), yf(530))

# legend key, n = 12 on top
for n, col, i in zip(n_labels[::-1], n_colors[::-1], range(12)):
    py = 268.7 + 12.05 * i
    pc.segment(xc(322), yc(py), xc(344), yc(py), line_color=col, line_width=2.6)
    pc.add_layout(Label(x=xc(354), y=yc(py), text="n", text_font=SERIF, text_font_style="italic", text_font_size="16px",
                        text_color=TXT, text_baseline="middle", text_align="left"))
    pc.add_layout(Label(x=xc(362), y=yc(py), text="= %d" % n, text_font=SERIF, text_font_size="16px",
                        text_color=TXT, text_baseline="middle", text_align="left"))

# axis titles live in their own page-pixel strips so they are not clipped to a frame
sa = strip(0, 36, 0, 237)
sb = strip(400, 432, 0, 237)
sc = strip(0, 36, 258, 488)
sd = strip(400, 432, 258, 488)
se = strip(0, 36, 510, 740)
sf = strip(400, 432, 510, 740)
rich(sa, YT_I, 20, 197, 19.5, True)
rich(sb, YT_I, 415, 197, 19.5, True)
rich(sc, YT_C, 21, 437, 19.5, True)
rich(sd, YT_C, 420, 437, 19.5, True)
rich(se, YT_E, 23, 702, 20, True)
rich(sf, YT_E, 420, 702, 20, True)
s1 = strip(0, 800, 237, 258)
s2 = strip(0, 800, 488, 510)
s3 = strip(0, 800, 740, 765)
rich(s1, XT_Q, 202, 247, 19.5, False)
rich(s1, XT_Q, 595, 247, 19.5, False)
rich(s2, XT_Q, 202, 499, 19.5, False)
rich(s2, XT_Q, 595, 499, 19.5, False)
rich(s3, XT_Q1, 197, 752, 19.5, False)
rich(s3, XT_Q1, 592, 752, 19.5, False)

page = column(row(sa, pa, sb, pb), s1, row(sc, pc, sd, pd), s2, row(se, pe, sf, pf), s3)
open("out.html", "w").write(file_html(page, INLINE))
